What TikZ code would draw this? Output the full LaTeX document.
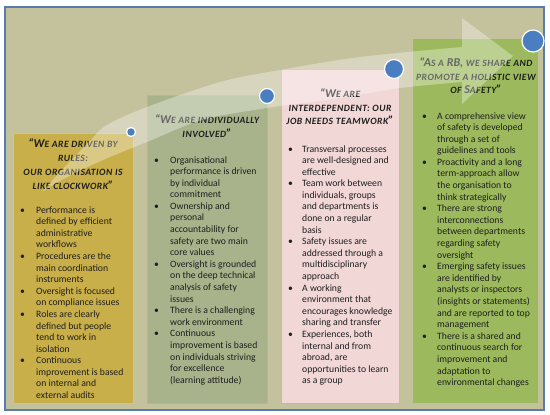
\documentclass[tikz,border=0pt]{standalone}
\usepackage{fontspec}
\setmainfont{Carlito}
\definecolor{bgk}{HTML}{C4C19D}
\definecolor{frameblue}{HTML}{5A7BAE}
\definecolor{boxa}{HTML}{C9AF49}
\definecolor{boxaline}{HTML}{F2B585}
\definecolor{boxb}{HTML}{A8B38B}
\definecolor{boxbline}{HTML}{9DB6D4}
\definecolor{boxc}{HTML}{F2D7D7}
\definecolor{boxcline}{HTML}{E6A9A9}
\definecolor{boxd}{HTML}{9CBA5D}
\definecolor{dotblue}{HTML}{4A7EC0}
\definecolor{txt}{HTML}{1E1E1E}
\newcommand\tsc[1]{{\fontsize{9.6}{14}\selectfont\addfontfeature{LetterSpace=5}\MakeUppercase{#1}}}
\newcommand\bl{\textbullet&}
\begin{document}
\begin{tikzpicture}[x=1pt,y=-1pt,
  panel/.style={rectangle, anchor=north west, inner sep=0pt, line width=0.8pt},
  ttl/.style={anchor=base, inner sep=0pt, font=\fontsize{12}{14}\selectfont\bfseries\itshape, text=txt},
  lst/.style={anchor=base west, inner sep=0pt, font=\fontsize{9.7}{11.6}\selectfont, text=txt},
  dot/.style={circle, fill=dotblue, draw=white, line width=1.2pt, inner sep=0pt}]
\useasboundingbox (0,0) rectangle (550,415);
\fill[white] (0,0) rectangle (550,415);
\draw[fill=bgk, draw=frameblue, line width=1.2pt] (5,7) rectangle (544,410);
% panels
\node[panel, draw=boxaline, fill=boxa, minimum width=120pt, minimum height=270pt] (b1) at (13,133) {};
\node[panel, draw=boxbline, fill=boxb, minimum width=120pt, minimum height=308pt] (b2) at (147,95) {};
\node[panel, draw=boxcline, fill=boxc, minimum width=118pt, minimum height=334pt] (b3) at (281,69) {};
\node[panel, fill=boxd, minimum width=125pt, minimum height=364pt] (b4) at (413,39) {};
% titles
\node[ttl] (t1) at (73,147) {\begin{tabular}[t]{@{}c@{}}“W\tsc{e are driven by}\\ \tsc{rules:}\\ \tsc{our organisation is}\\ \tsc{like clockwork}”\end{tabular}};
\node[ttl] (t2) at (207,123) {\begin{tabular}[t]{@{}c@{}}“W\tsc{e are individually}\\ \tsc{involved}”\end{tabular}};
\node[ttl] (t3) at (340,97) {\begin{tabular}[t]{@{}c@{}}“W\tsc{e are}\\ \tsc{interdependent: our}\\ \tsc{job needs teamwork}”\end{tabular}};
\node[ttl] (t4) at (476,66) {\begin{tabular}[t]{@{}c@{}}“A\tsc{s a} RB, \tsc{we share and}\\ \tsc{promote a holistic view}\\ \tsc{of} S\tsc{afety}”\end{tabular}};
% lists
\node[lst] (l1) at (20,213) {\begin{tabular}[t]{@{}p{16pt}@{}l@{}}
\bl Performance is\\ & defined by efficient\\ & administrative\\ & workflows\\
\bl Procedures are the\\ & main coordination\\ & instruments\\
\bl Oversight is focused\\ & on compliance issues\\
\bl Roles are clearly\\ & defined but people\\ & tend to work in\\ & isolation\\
\bl Continuous\\ & improvement is based\\ & on internal and\\ & external audits
\end{tabular}};
\node[lst] (l2) at (154,163) {\begin{tabular}[t]{@{}p{16pt}@{}l@{}}
\bl Organisational\\ & performance is driven\\ & by individual\\ & commitment\\
\bl Ownership and\\ & personal\\ & accountability for\\ & safety are two main\\ & core values\\
\bl Oversight is grounded\\ & on the deep technical\\ & analysis of safety\\ & issues\\
\bl There is a challenging\\ & work environment\\
\bl Continuous\\ & improvement is based\\ & on individuals striving\\ & for excellence\\ & (learning attitude)
\end{tabular}};
\node[lst] (l3) at (288,152) {\begin{tabular}[t]{@{}p{14pt}@{}l@{}}
\bl Transversal processes\\ & are well-designed and\\ & effective\\
\bl Team work between\\ & individuals, groups\\ & and departments is\\ & done on a regular\\ & basis\\
\bl Safety issues are\\ & addressed through a\\ & multidisciplinary\\ & approach\\
\bl A working\\ & environment that\\ & encourages knowledge\\ & sharing and transfer\\
\bl Experiences, both\\ & internal and from\\ & abroad, are\\ & opportunities to learn\\ & as a group
\end{tabular}};
\node[lst] (l4) at (422,119) {\begin{tabular}[t]{@{}p{15pt}@{}l@{}}
\bl A comprehensive view\\ & of safety is developed\\ & through a set of\\ & guidelines and tools\\
\bl Proactivity and a long\\ & term-approach allow\\ & the organisation to\\ & think strategically\\
\bl There are strong\\ & interconnections\\ & between departments\\ & regarding safety\\ & oversight\\
\bl Emerging safety issues\\ & are identified by\\ & analysts or inspectors\\ & (insights or statements)\\ & and are reported to top\\ & management\\
\bl There is a shared and\\ & continuous search for\\ & improvement and\\ & adaptation to\\ & environmental changes
\end{tabular}};
% translucent upward arrow
\fill[white, opacity=0.33] plot[smooth, tension=0.55] coordinates {(42,192) (60,172) (88,143) (107,125) (147,107) (220,82) (280,70) (360,57) (462,47)}
  -- (462,18) -- (513,56) -- (462,104)
  -- plot[smooth, tension=0.55] coordinates {(462,82) (400,88) (340,98) (267,108) (202,120) (147,142) (110,157) (79,171) (53,185) (42,192)} -- cycle;
% dots
\node[dot, minimum size=9pt] (c1) at (131,132) {};
\node[dot, minimum size=15pt] (c2) at (267,96) {};
\node[dot, minimum size=19pt] (c3) at (394,69) {};
\node[dot, minimum size=22pt] (c4) at (533,41) {};
\end{tikzpicture}
\end{document}
